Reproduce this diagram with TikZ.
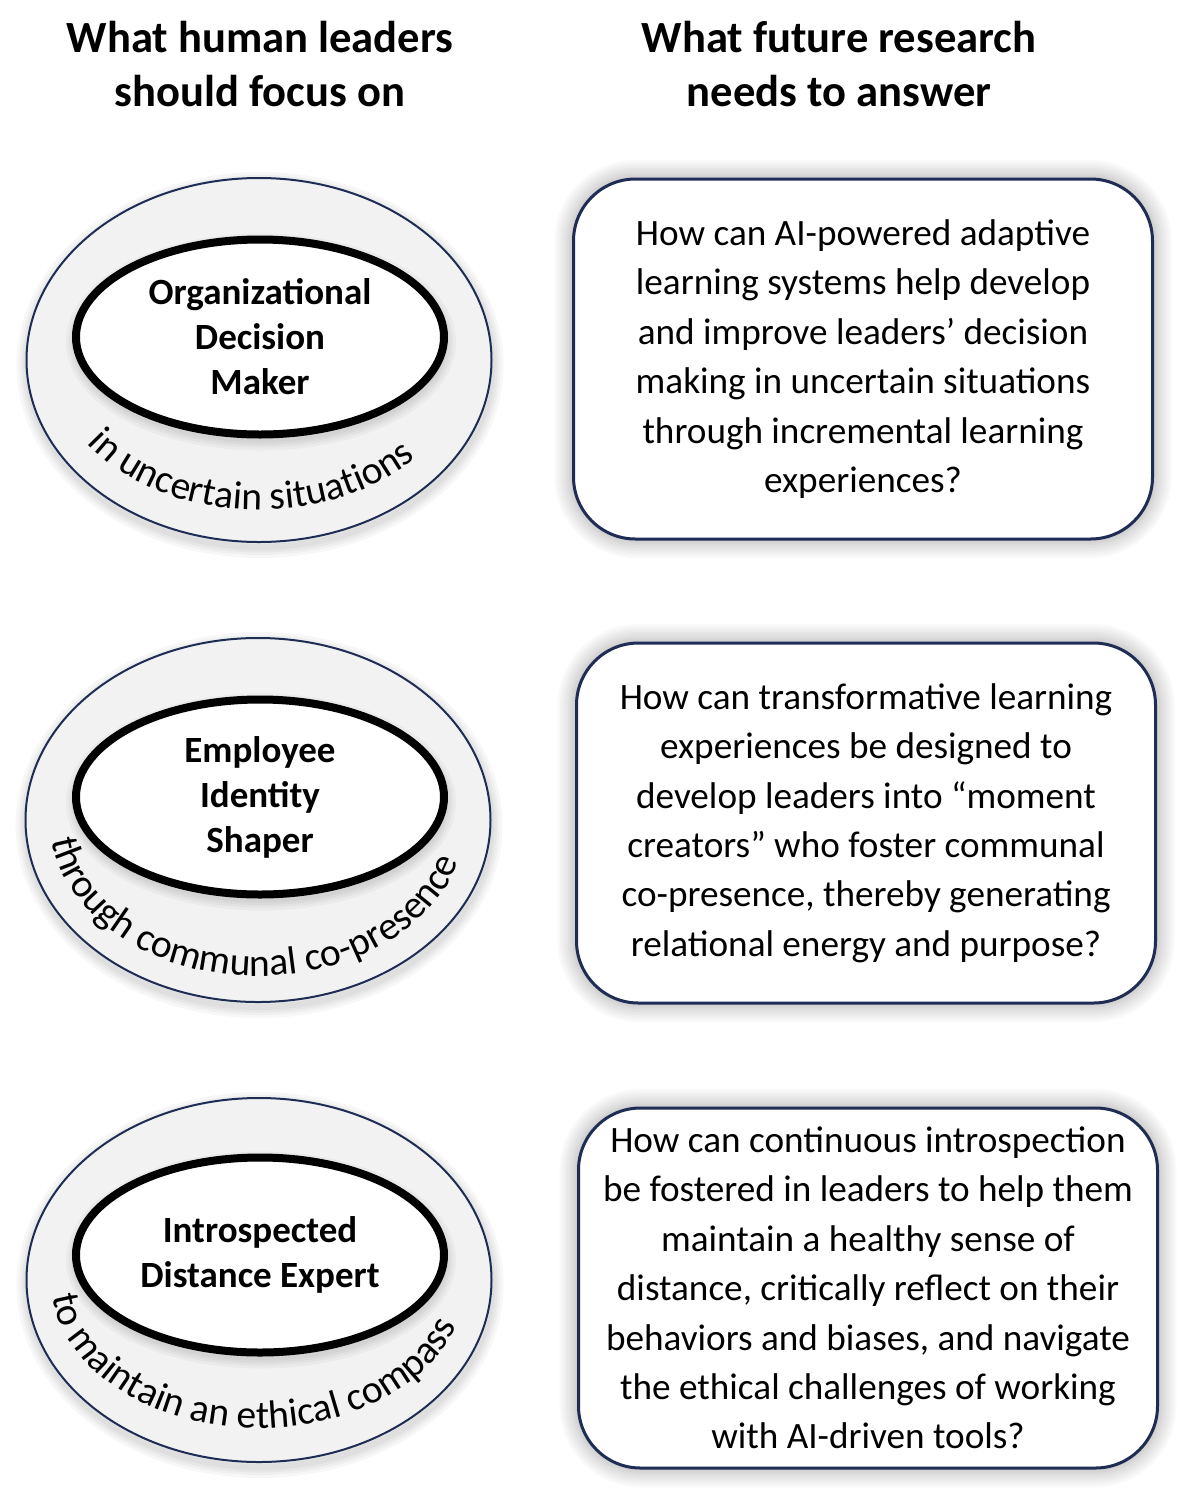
\documentclass[tikz,border=0pt]{standalone}
\usepackage{fontspec}
\setmainfont{Carlito}
\usetikzlibrary{shapes.geometric,decorations.text}
\definecolor{navy}{HTML}{1F2D55}
\definecolor{ringgray}{HTML}{F2F2F2}
\newcommand\headfont{\fontsize{44.6}{54}\selectfont\bfseries}
\newcommand\rolefont{\fontsize{37}{45}\selectfont\bfseries}
\newcommand\askfont{\fontsize{37.2}{49.4}\selectfont}
\newcommand\ringfont{\fontsize{39.5}{44}\selectfont}
\tikzset{
  glowstep/.style={preaction={draw=black,opacity=.022,line width=#1}},
  glow/.style={glowstep=38pt,glowstep=33pt,glowstep=28pt,glowstep=23pt,
    glowstep=18pt,glowstep=13pt,glowstep=9pt,glowstep=5pt},
  dropstep/.style={preaction={draw=black,opacity=.03,line width=#1,
    transform canvas={yshift=-5pt,xshift=1pt}}},
  drop/.style={dropstep=22pt,dropstep=16pt,dropstep=11pt,dropstep=6pt},
  ring/.style={ellipse,draw=navy,line width=2pt,fill=ringgray,inner sep=0pt,
    minimum width=465,minimum height=364,drop},
  role/.style={ellipse,draw=black,line width=8pt,fill=white,inner sep=0pt,
    minimum width=368,minimum height=195,align=center,font=\rolefont,drop},
  ask/.style={rectangle,rounded corners=62pt,draw=navy,line width=3pt,fill=white,
    minimum width=579,minimum height=360,align=center,font=\askfont,glow},
  head/.style={align=center,font=\headfont},
  along/.style={decorate,decoration={text along path,text align=center,text={|\ringfont|#1}}},
}
\begin{document}
\begin{tikzpicture}[x=1pt,y=-1pt]
  \path[fill=white] (0,0) rectangle (1181,1489);
  \node[head] (hl) at (260,64) {What human leaders\\should focus on};
  \node[head] (hr) at (839,64) {What future research\\needs to answer};
  % leader roles
  \node[ring] (o1) at (259,360) {};
  \node[role] (r1) at (260,337) {Organizational\\Decision\\Maker};
  \path[along={in uncertain situations}] ([shift={(184:207 and 150)}]o1.center)
    arc[start angle=184,end angle=4,x radius=207,y radius=150];
  \node[ring] (o2) at (258,820) {};
  \node[role] (r2) at (260,797) {Employee\\Identity\\Shaper};
  \path[along={through communal co-presence}] ([shift={(184:208 and 156)}]o2.center)
    arc[start angle=184,end angle=4,x radius=208,y radius=156];
  \node[ring] (o3) at (259,1280) {};
  \node[role] (r3) at (260,1255) {Introspected\\Distance Expert};
  \path[along={to maintain an ethical compass}] ([shift={(186:208 and 148)}]o3.center)
    arc[start angle=186,end angle=6,x radius=208,y radius=148];
  % research questions
  \node[ask] (q1) at (863,359) {How can AI-powered adaptive\\learning systems help develop\\and improve leaders’ decision\\making in uncertain situations\\through incremental learning\\experiences?};
  \node[ask] (q2) at (866,823) {How can transformative learning\\experiences be designed to\\develop leaders into “moment\\creators” who foster communal\\co-presence, thereby generating\\relational energy and purpose?};
  \node[ask] (q3) at (868,1288) {How can continuous introspection\\be fostered in leaders to help them\\maintain a healthy sense of\\distance, critically reflect on their\\behaviors and biases, and navigate\\the ethical challenges of working\\with AI-driven tools?};
\end{tikzpicture}
\end{document}
